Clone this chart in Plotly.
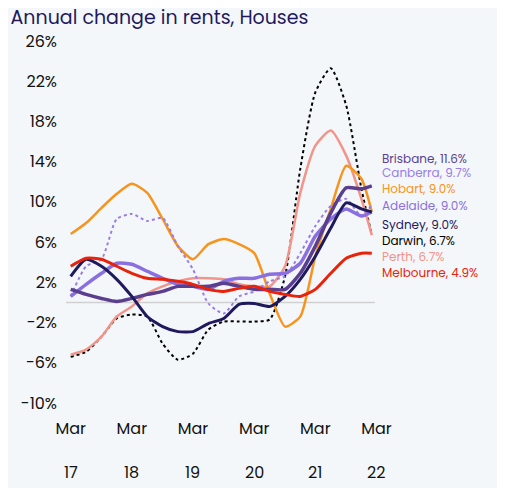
import plotly.graph_objects as go

dates = ["2017-03-01","2017-06-01","2017-09-01","2017-12-01","2018-03-01","2018-06-01","2018-09-01","2018-12-01",
         "2019-03-01","2019-06-01","2019-09-01","2019-12-01","2020-03-01","2020-06-01","2020-09-01","2020-12-01",
         "2021-03-01","2021-06-01","2021-09-01","2021-12-01","2022-02-01"]

darwin = [-5.4,-4.9,-3.4,-1.6,-1.2,-1.4,-4.1,-5.7,-5.1,-2.7,-1.9,-1.9,-1.9,-1.7,2.6,13.3,20.9,23.3,19.6,11.3,6.7]
perth = [-5.2,-4.7,-3.4,-1.4,-0.4,0.9,1.6,2.1,2.4,2.4,2.3,1.8,1.6,1.6,3.6,10.9,15.6,17.1,14.6,10.3,6.7]
hobart = [6.8,7.9,9.4,10.8,11.8,10.9,8.3,5.6,4.3,5.8,6.3,5.8,4.9,0.9,-2.4,-1.4,4.6,9.3,13.6,12.3,9.0]
brisbane = [1.3,0.8,0.4,0.1,0.4,0.8,1.1,1.6,1.6,1.6,1.9,1.6,1.3,1.3,1.3,2.9,5.6,8.9,11.4,11.3,11.6]
canberra = [0.6,3.6,4.3,8.3,8.8,8.1,8.4,5.6,3.3,-0.1,-1.1,0.6,1.1,2.1,2.6,4.9,7.6,9.6,10.3,8.6,9.7]
adelaide = [0.6,1.8,2.9,3.9,3.8,3.1,2.4,1.8,1.6,1.3,2.1,2.4,2.4,2.8,2.9,3.9,6.6,8.3,9.3,8.6,9.0]
sydney = [2.6,4.3,3.6,2.3,0.6,-1.4,-2.4,-2.9,-2.9,-2.1,-1.6,-0.2,-0.1,-0.4,0.6,2.3,4.6,7.4,9.9,9.3,9.0]
melbourne = [3.6,4.4,4.3,3.6,2.9,2.4,2.3,2.1,1.8,1.3,1.1,1.4,1.6,1.1,0.8,0.6,1.3,2.9,4.4,4.9,4.9]

labels = ["Brisbane, 11.6%","Canberra, 9.7%","Hobart, 9.0%","Adelaide, 9.0%","Sydney, 9.0%","Darwin, 6.7%","Perth, 6.7%","Melbourne, 4.9%"]
label_y = [14.3,12.9,11.3,9.6,7.8,6.2,4.6,3.0]
label_colors = ["#5b3f8f","#9b7de8","#f7941d","#8a6fe0","#1f1a5e","#000000","#f2948a","#e8230c"]

tick_vals = ["2017-03-01","2018-03-01","2019-03-01","2020-03-01","2021-03-01","2022-03-01"]
tick_text = ["Mar"] * 6
year_text = ["17","18","19","20","21","22"]
y_vals = list(range(-10, 27, 4))
y_text = [f"{v}%" for v in y_vals]

series = [
    (darwin, "#000000", "dot", 2),
    (perth, "#f2948a", "solid", 2.5),
    (hobart, "#f7941d", "solid", 2.5),
    (canberra, "#9b7de8", "dot", 2),
    (adelaide, "#8a6fe0", "solid", 3.5),
    (brisbane, "#5b3f8f", "solid", 3.5),
    (sydney, "#1f1a5e", "solid", 3),
    (melbourne, "#e8230c", "solid", 3),
]

fig = go.Figure()
for vals, c, d, w in series:
    fig.add_trace(go.Scatter(x=dates, y=vals, mode="lines", line=dict(color=c, dash=d, width=w, shape="spline", smoothing=0.6),
                             showlegend=False, hoverinfo="skip"))

for t, y, c in zip(labels, label_y, label_colors):
    fig.add_annotation(x=1.005, xref="paper", y=y, yref="y", text=t, showarrow=False, xanchor="left",
                       font=dict(color=c, size=12, family="Poppins, Noto Sans, sans-serif"))

for tv, yt in zip(tick_vals, year_text):
    fig.add_annotation(x=tv, xref="x", y=-0.155, yref="paper", text=yt, showarrow=False, yanchor="top",
                       font=dict(size=16, color="#111111"))

fig.add_shape(type="line", xref="paper", x0=0, x1=0.99, y0=0, y1=0, line=dict(color="#d0d0d0", width=1.5), layer="below")

fig.update_layout(
    width=505, height=488,
    paper_bgcolor="#f4f7f9", plot_bgcolor="#f4f7f9",
    margin=dict(l=58, r=135, t=33, b=93),
    title=dict(text="Annual change in rents, Houses", x=0.005, xanchor="left", y=0.995, yanchor="top",
               font=dict(size=19, color="#1f1a5e", family="Poppins, Noto Sans, sans-serif")),
    font=dict(family="Poppins, Noto Sans, sans-serif", color="#111111", size=16),
    xaxis=dict(range=["2017-02-01","2022-03-10"], tickvals=tick_vals, ticktext=tick_text, showgrid=False,
               zeroline=False, showline=False, tickfont=dict(size=16), ticklabelstandoff=14),
    yaxis=dict(range=[-10, 26], tickvals=y_vals, ticktext=y_text, showgrid=False,
               zeroline=False, showline=False, tickfont=dict(size=16), ticklabelstandoff=8),
)
fig.write_html("out.html")
